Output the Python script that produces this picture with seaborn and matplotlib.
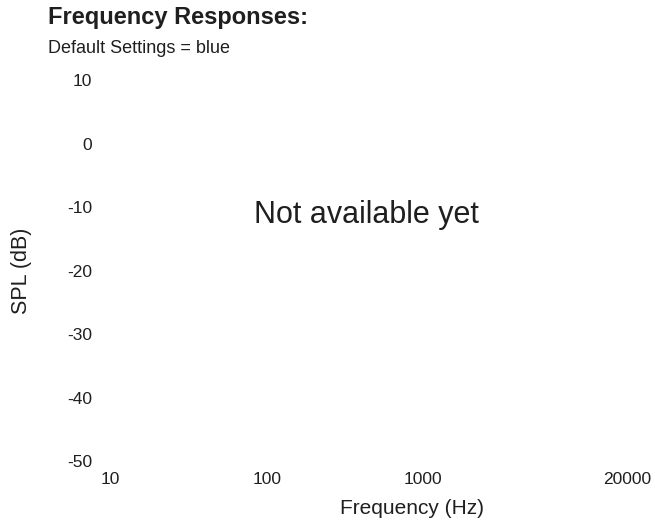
import matplotlib
matplotlib.use("Agg")
import matplotlib.pyplot as plt
import seaborn as sns
import pandas as pd

# axis setup
freq_ticks = [10, 100, 1000, 20000]
freq_labels = ["10", "100", "1000", "20000"]
spl_ticks = [10, 0, -10, -20, -30, -40, -50]
spl_labels = ["10", "0", "-10", "-20", "-30", "-40", "-50"]
freq_range = (10, 20000)
spl_range = (-50, 10)

# no measurement yet, so the curve is empty
freq = []
spl = []
curve = pd.DataFrame({"freq": freq, "spl": spl})

sns.set_theme(style="white")
plt.rcParams['font.family'] = ['Liberation Sans', 'DejaVu Sans']
plt.rcParams['axes.unicode_minus'] = False
text_color = "#1f1f1f"

fig = plt.figure(figsize=(6.55, 5.22), dpi=100)
ax = fig.add_axes([110.5 / 655, 1 - 461 / 522, 516.5 / 655, 380.7 / 522])

if len(curve):
    sns.lineplot(data=curve, x="freq", y="spl", color="blue", ax=ax)

ax.set_xscale("log")
ax.set_xlim(*freq_range)
ax.set_ylim(*spl_range)
ax.set_xticks(freq_ticks)
ax.set_xticklabels(freq_labels)
ax.minorticks_off()
ax.set_yticks(spl_ticks)
ax.set_yticklabels(spl_labels)
ax.tick_params(axis="x", length=0, pad=8, labelsize=12.5, labelcolor=text_color)
ax.tick_params(axis="y", length=0, pad=13, labelsize=12.5, labelcolor=text_color)
sns.despine(ax=ax, left=True, bottom=True)
ax.grid(False)

ax.set_xlabel("Frequency (Hz)", fontsize=15, color=text_color)
ax.xaxis.label.set_va("baseline")
ax.xaxis.set_label_coords(0.584, (461 - 514) / 380.7)
ax.set_ylabel("SPL (dB)", fontsize=15.5, color=text_color)
ax.yaxis.label.set_va("baseline")
ax.yaxis.set_label_coords((26.7 - 110.5) / 516.5, 0.5)

ax.text(0.496, (461 - 222.7) / 380.7, "Not available yet", transform=ax.transAxes,
        ha="center", va="baseline", fontsize=22, color=text_color)

fig.text(48 / 655, 1 - 24 / 522, "Frequency Responses:", ha="left", va="baseline",
         fontsize=17, fontweight="bold", color=text_color)
fig.text(48 / 655, 1 - 53.3 / 522, "Default Settings = blue", ha="left", va="baseline",
         fontsize=13, color=text_color)

fig.savefig("out.png", dpi=100)
